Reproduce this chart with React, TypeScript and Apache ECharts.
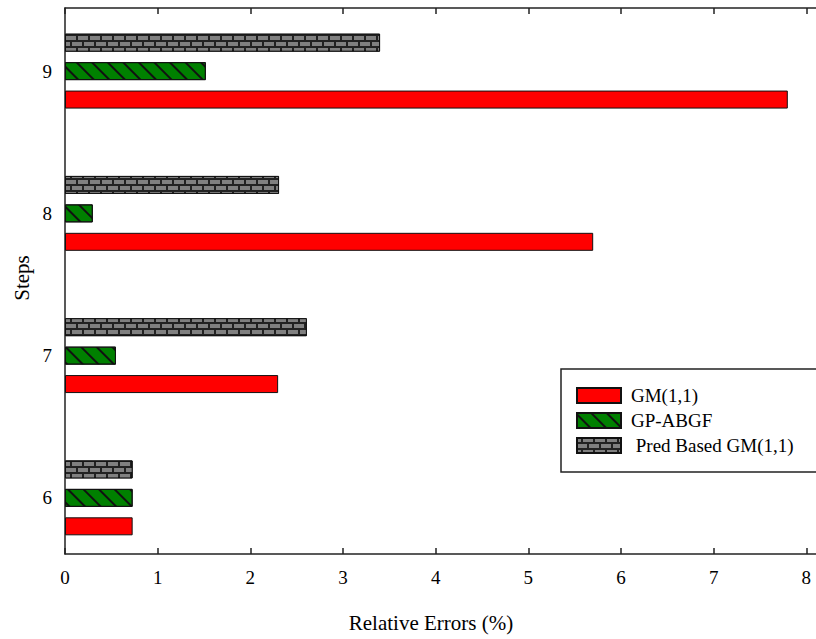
import React, { useEffect, useRef } from "react";
import * as echarts from "echarts";

const categories = ["6", "7", "8", "9"];
const gmValues = [0.73, 2.3, 5.7, 7.8];
const gpAbgfValues = [0.73, 0.55, 0.3, 1.52];
const predBasedValues = [0.73, 2.61, 2.31, 3.4];
const xTicks = [0, 1, 2, 3, 4, 5, 6, 7, 8];
const seriesNames = ["GM(1,1)", "GP-ABGF", "Pred Based GM(1,1)"];

const FONT = "'Liberation Serif', 'Times New Roman', 'DejaVu Serif', serif";

export default function App() {
  const ref = useRef<HTMLDivElement>(null);
  useEffect(() => {
    if (!ref.current) return;
    const chart = echarts.init(ref.current, undefined, { renderer: "svg" });
    const gridLeft = 65;
    const gridWidth = 834;
    const xMax = 9;
    const lineStyle = { color: "#222", width: 1.5 };
    const barCommon = {
      type: "bar",
      xAxisIndex: 2,
      yAxisIndex: 1,
      barWidth: 18,
      barGap: "58%",
    };
    chart.setOption({
      animation: false,
      backgroundColor: "#fff",
      grid: [
        { left: gridLeft, top: 8, width: gridWidth, height: 546 },
        { left: gridLeft, top: -7, width: gridWidth, height: 576 },
      ],
      xAxis: [
        {
          gridIndex: 0,
          type: "value",
          min: 0,
          max: xMax,
          interval: 1,
          position: "bottom",
          axisLine: { show: true, lineStyle },
          axisTick: { show: true, inside: true, length: 6, lineStyle },
          axisLabel: {
            show: true,
            fontFamily: FONT,
            fontSize: 19,
            color: "#000",
            margin: 14,
            formatter: (v: number) => (xTicks.includes(v) ? String(v) : ""),
          },
          splitLine: { show: false },
        },
        {
          gridIndex: 0,
          type: "value",
          min: 0,
          max: xMax,
          interval: 1,
          position: "top",
          axisLine: { show: true, lineStyle },
          axisTick: { show: true, inside: true, length: 6, lineStyle },
          axisLabel: { show: false },
          splitLine: { show: false },
        },
        {
          gridIndex: 1,
          type: "value",
          min: 0,
          max: xMax,
          show: false,
        },
      ],
      yAxis: [
        {
          gridIndex: 0,
          type: "value",
          min: 0,
          max: 1,
          axisLine: { show: true, lineStyle },
          axisTick: { show: false },
          axisLabel: { show: false },
          splitLine: { show: false },
        },
        {
          gridIndex: 1,
          type: "category",
          data: categories,
          axisLine: { show: false },
          axisTick: { show: false },
          axisLabel: {
            fontFamily: FONT,
            fontSize: 19,
            color: "#000",
            margin: 13,
          },
          splitLine: { show: false },
        },
      ],
      legend: {
        orient: "vertical",
        left: 561,
        top: 369,
        padding: [17, 40, 17, 15],
        borderColor: "#222",
        borderWidth: 1.5,
        itemWidth: 44,
        itemHeight: 15,
        itemGap: 6,
        icon: "rect",
        data: seriesNames,
        formatter: (name: string) => (name === seriesNames[2] ? " " + name : name),
        textStyle: {
          fontFamily: FONT,
          fontSize: 19,
          color: "#000",
          padding: [0, 0, 0, 5],
        },
      },
      graphic: [
        {
          type: "text",
          x: 431,
          y: 612,
          style: {
            text: "Relative Errors (%)",
            fontFamily: FONT,
            fontSize: 21,
            fill: "#000",
            align: "center",
            verticalAlign: "top",
          },
        },
        {
          type: "text",
          x: 11,
          y: 278,
          rotation: Math.PI / 2,
          style: {
            text: "Steps",
            fontFamily: FONT,
            fontSize: 21,
            fill: "#000",
            align: "center",
            verticalAlign: "top",
          },
        },
      ],
      series: [
        {
          ...barCommon,
          name: seriesNames[2],
          data: predBasedValues,
          itemStyle: {
            color: "#222",
            borderColor: "#111",
            borderWidth: 1,
            decal: {
              symbol: "rect",
              color: "#808080",
              dashArrayX: [
                [10, 2],
                [4, 2, 6, 0],
              ],
              dashArrayY: [4, 2],
              rotation: 0,
            },
          },
        },
        {
          ...barCommon,
          name: seriesNames[1],
          data: gpAbgfValues,
          itemStyle: {
            color: "#008000",
            borderColor: "#111",
            borderWidth: 1,
            decal: {
              symbol: "rect",
              color: "#111",
              dashArrayX: [1, 0],
              dashArrayY: [1.5, 9],
              rotation: Math.PI / 4,
            },
          },
        },
        {
          ...barCommon,
          name: seriesNames[0],
          data: gmValues,
          itemStyle: { color: "#ff0000", borderColor: "#111", borderWidth: 1 },
        },
      ],
    });
    return () => chart.dispose();
  }, []);
  return (
    <div
      style={{
        position: "fixed",
        left: 0,
        top: 0,
        width: 816,
        height: 639,
        overflow: "hidden",
        background: "#fff",
      }}
    >
      <div ref={ref} style={{ width: 920, height: 639 }} />
    </div>
  );
}
